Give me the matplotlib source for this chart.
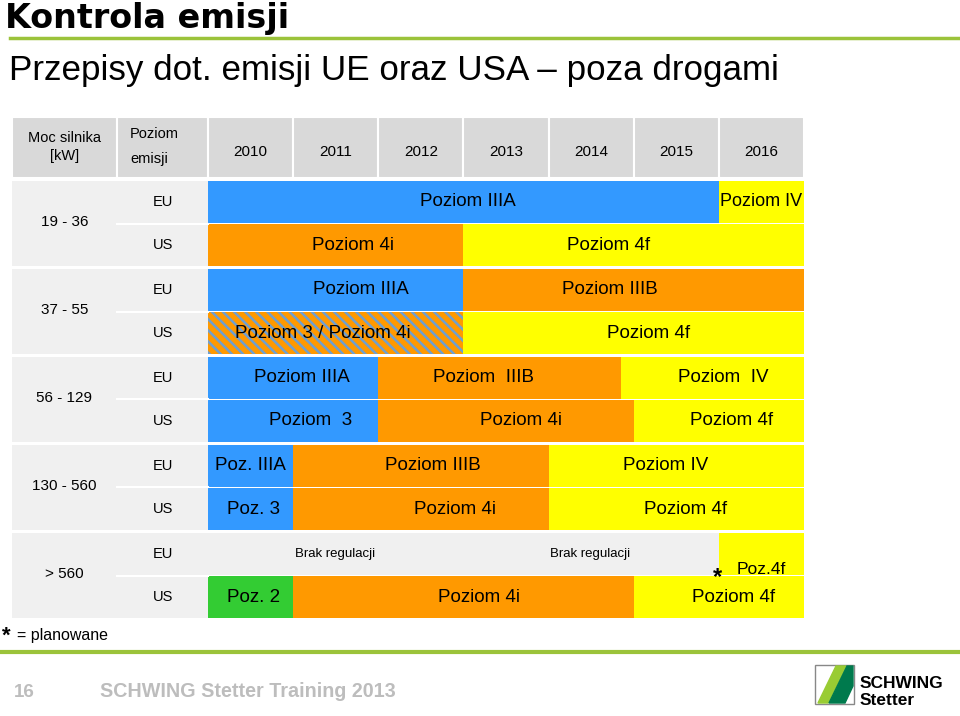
import matplotlib.pyplot as plt
from matplotlib.patches import Rectangle, Polygon

plt.rcParams['font.family'] = ['Liberation Sans', 'DejaVu Sans']
plt.rcParams['hatch.linewidth'] = 1.8

# ---- data ----
years = [2010, 2011, 2012, 2013, 2014, 2015, 2016]
power = ['19 - 36', '37 - 55', '56 - 129', '130 - 560', '> 560']
regions = ['EU', 'US']

# (start, end, label) per row
eu_19_36 = [(2010, 2016, 'Poziom IIIA'), (2016, 2017, 'Poziom IV')]
us_19_36 = [(2010, 2013, 'Poziom 4i'), (2013, 2017, 'Poziom 4f')]
eu_37_55 = [(2010, 2013, 'Poziom IIIA'), (2013, 2017, 'Poziom IIIB')]
us_37_55 = [(2010, 2013, 'Poziom 3 / Poziom 4i'), (2013, 2017, 'Poziom 4f')]
eu_56_129 = [(2010, 2012, 'Poziom IIIA'), (2012, 2014.85, 'Poziom  IIIB'), (2014.85, 2017, 'Poziom  IV')]
us_56_129 = [(2010, 2012, 'Poziom  3'), (2012, 2015, 'Poziom 4i'), (2015, 2017, 'Poziom 4f')]
eu_130_560 = [(2010, 2011, 'Poz. IIIA'), (2011, 2014, 'Poziom IIIB'), (2014, 2017, 'Poziom IV')]
us_130_560 = [(2010, 2011, 'Poz. 3'), (2011, 2014, 'Poziom 4i'), (2014, 2017, 'Poziom 4f')]
eu_560 = [(2010, 2013, 'Brak regulacji'), (2013, 2016, 'Brak regulacji'), (2016, 2017, 'Poz.4f')]
us_560 = [(2010, 2011, 'Poz. 2'), (2011, 2015, 'Poziom 4i'), (2015, 2017, 'Poziom 4f')]

rows = [(eu_19_36, us_19_36), (eu_37_55, us_37_55), (eu_56_129, us_56_129),
        (eu_130_560, us_130_560), (eu_560, us_560)]

# label x positions (years) - layout only
label_x = [
    ([2013.05, 2016.49], [2011.7, 2014.7]),
    ([2011.8, 2014.72], [2011.35, 2015.18]),
    ([2011.1, 2013.23, 2016.05], [2011.2, 2013.68, 2016.15]),
    ([2010.5, 2012.64, 2015.37], [2010.53, 2012.9, 2015.61]),
    ([2011.49, 2014.49, 2016.5], [2010.53, 2013.18, 2016.17]),
]

BLUE, ORANGE, YELLOW, GREEN, GREY = '#3399ff', '#ff9900', '#ffff00', '#33cc33', '#f0f0f0'


def colour(label):
    if 'Brak' in label:
        return GREY
    if label.endswith('IIIA') or label.endswith(' 3'):
        return BLUE
    if label.endswith('IIIB') or label.endswith('4i'):
        return ORANGE
    if label.endswith('2'):
        return GREEN
    return YELLOW


fig = plt.figure(figsize=(9.6, 7.16), dpi=100)

# background / decoration axes in pixel units
bg = fig.add_axes([0, 0, 1, 1])
bg.set_xlim(0, 960)
bg.set_ylim(716, 0)
bg.axis('off')
bg.text(5, 28, 'Kontrola emisji', fontsize=24, fontweight='bold', va='baseline',
        family='DejaVu Sans')
bg.plot([10, 960], [38, 38], color='#9bc33a', lw=2.5)
bg.text(9, 80, 'Przepisy dot. emisji UE oraz USA \u2013 poza drogami', fontsize=25.2, va='baseline')
bg.text(2, 642, '*', fontsize=16, fontweight='bold', va='baseline')
bg.text(17, 640, '= planowane', fontsize=11.5, va='baseline')
bg.plot([0, 960], [652, 652], color='#9bc33a', lw=3)
bg.text(14, 697, '16', fontsize=13.5, color='#bdbdbd', fontweight='bold', va='baseline')
bg.text(100, 697, 'SCHWING Stetter Training 2013', fontsize=14.2, color='#bdbdbd',
        fontweight='bold', va='baseline')
# logo
bg.add_patch(Rectangle((815, 665), 39, 39, fill=False, edgecolor='#888888', lw=1))
bg.add_patch(Polygon([(818, 703), (828, 703), (846, 666), (836, 666)], color='#99cc33'))
bg.add_patch(Polygon([(829, 703), (845, 703), (853, 686), (853, 666), (847, 666)], color='#007a4d'))
bg.text(860, 688, 'SCHWING', fontsize=12.5, fontweight='bold', va='baseline')
bg.text(860, 705, 'Stetter', fontsize=12.5, fontweight='bold', va='baseline')

# table axes: x in years, y in pixel rows from table top
ax = fig.add_axes([12 / 960, 98 / 716, 792 / 960, 501 / 716])
yw = (804 - 208) / 7
x0 = 2010 - 196 / yw
x1 = 2010 - 91 / yw
ax.set_xlim(x0, 2017)
ax.set_ylim(501, 0)
ax.axis('off')

# header
HEAD = '#d9d9d9'
for left, right in [(x0, x1), (x1, 2010)] + [(y, y + 1) for y in years]:
    ax.barh(30.5, right - left, left=left, height=61, color=HEAD, edgecolor='white', lw=1.5)
ax.text((x0 + x1) / 2, 30, 'Moc silnika\n[kW]', ha='center', va='center', fontsize=10.5,
        linespacing=1.3)
ax.text(2010 + (130 - 208) / yw, 30, 'Poziom\nemisji', ha='left', va='center', fontsize=10.5,
        linespacing=2.0)
for y in years:
    ax.text(y + 0.5, 35, str(y), ha='center', va='center', fontsize=11)

for g, (eu, us) in enumerate(rows):
    top = 64 + 88 * g
    ax.barh(top + 42.5, 2010 - x0, left=x0, height=85, color=GREY)
    ax.plot([x1, 2010], [top + 42.5] * 2, color='white', lw=1.5)
    ax.text((x0 + x1) / 2, top + 41, power[g], ha='center', va='center', fontsize=11)
    for r, segs in enumerate((eu, us)):
        y0 = top + 43 * r
        ax.text(2010 + (163 - 208) / yw, y0 + 21, regions[r], ha='center', va='center', fontsize=10.5)
        for k, (s, e, lab) in enumerate(segs):
            lx = label_x[g][r][k]
            if '/' in lab:
                ax.barh(y0 + 21, e - s, left=s, height=42, color=ORANGE, hatch='\\\\\\',
                        edgecolor='#6f9fd0', lw=0)
            else:
                ax.barh(y0 + 21, e - s, left=s, height=42, color=colour(lab), lw=0)
            if 'Brak' in lab:
                ax.text(lx, y0 + 21, lab, ha='center', va='center', fontsize=9.5)
            elif lab == 'Poz.4f':
                ax.text(2015.98, y0 + 45, '*', ha='center', va='center', fontsize=17,
                        fontweight='bold')
                ax.text(lx, y0 + 37, lab, ha='center', va='center', fontsize=12.5)
            else:
                fs = 13 if (g == 0 and k == 1 and r == 0) else 13.5
                ax.text(lx, y0 + 21, lab, ha='center', va='center', fontsize=fs)

fig.savefig('out.png', dpi=100)
